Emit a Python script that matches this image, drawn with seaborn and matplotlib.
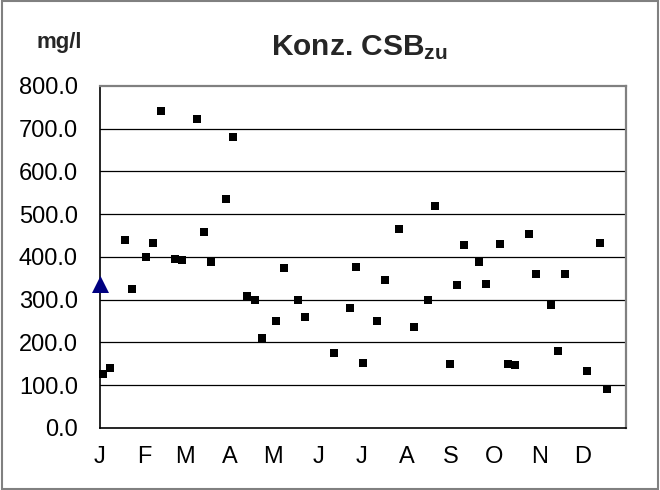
import numpy as np
import pandas as pd
import matplotlib
matplotlib.use("Agg")
import matplotlib.pyplot as plt
import seaborn as sns
from matplotlib.patches import Rectangle

# Tag im Jahr (0 = 1. Januar) und CSB-Konzentration im Zulauf
tage = [2, 7, 17, 22, 32, 37, 42, 52, 57, 67, 72, 77, 87, 92, 102, 107, 112, 122,
        127, 137, 142, 162, 173, 177, 182, 192, 197, 207, 217, 227, 232, 242, 247,
        252, 262, 267, 277, 282, 287, 297, 302, 312, 317, 322, 337, 346, 351]
csb_zu = [126, 140, 440, 324, 399, 433, 742, 395, 393, 722, 458, 389, 536, 680,
          308, 300, 209, 251, 375, 298, 260, 174, 280, 377, 152, 251, 347, 466,
          235, 299, 520, 149, 335, 427, 388, 337, 430, 150, 147, 454, 360, 287,
          180, 361, 134, 433, 91]

# Jahresmittel / Startwert (Dreieck)
mittel_tag = [0]
mittel_wert = [337]

monate = ["J", "F", "M", "A", "M", "J", "J", "A", "S", "O", "N", "D"]
monatsbeginn = [0, 31, 59, 90, 120, 151, 181, 212, 243, 273, 304, 334]

df = pd.DataFrame({"Tag": tage, "CSB": csb_zu})
df_mittel = pd.DataFrame({"Tag": mittel_tag, "CSB": mittel_wert})

sns.set_style("white")
plt.rcParams["font.family"] = ["Liberation Sans", "DejaVu Sans"]
plt.rcParams["mathtext.fontset"] = "custom"
plt.rcParams["mathtext.bf"] = "Liberation Sans:bold"
plt.rcParams["mathtext.default"] = "bf"

fig = plt.figure(figsize=(6.6, 4.9), dpi=100)
ax = fig.add_axes([0.1515, 0.127, 0.797, 0.6975])

# Gitterlinien
for y in range(100, 800, 100):
    ax.axhline(y, color="black", linewidth=0.9, zorder=0)

sns.scatterplot(data=df, x="Tag", y="CSB", marker="s", color="black", s=26,
                edgecolor="black", linewidth=0, ax=ax, zorder=3, clip_on=False)
sns.scatterplot(data=df_mittel, x="Tag", y="CSB", marker="^", color="#000080", s=150,
                edgecolor="#000080", linewidth=0, ax=ax, zorder=4, clip_on=False)

ax.set_xlim(0, 364)
ax.set_ylim(0, 800)
ax.set_xticks(monatsbeginn)
ax.set_xticklabels(monate)
ax.set_yticks(range(0, 801, 100))
ax.set_yticklabels([f"{v:.1f}" for v in range(0, 801, 100)])
ax.set_xlabel("")
ax.set_ylabel("")
ax.tick_params(axis="both", labelsize=17, colors="black", direction="out")
ax.tick_params(axis="y", length=5, width=1, pad=11)
ax.tick_params(axis="x", length=5, width=1, pad=8)

for s in ["left", "bottom"]:
    ax.spines[s].set_color("black")
    ax.spines[s].set_linewidth(1.2)
for s in ["top", "right"]:
    ax.spines[s].set_color("#808080")
    ax.spines[s].set_linewidth(1.6)

fig.text(0.545, 0.888, r"Konz. CSB$_{zu}$", ha="center", va="baseline",
         fontsize=21.5, fontweight="bold")
fig.text(0.09, 0.914, "mg/l", ha="center", va="center", fontsize=16, fontweight="bold")

# Rahmen um die Abbildung
fig.patches.append(Rectangle((0.003, 0.003), 0.994, 0.994, transform=fig.transFigure,
                             fill=False, edgecolor="#808080", linewidth=1.5))

plt.savefig("out.png", dpi=100)
